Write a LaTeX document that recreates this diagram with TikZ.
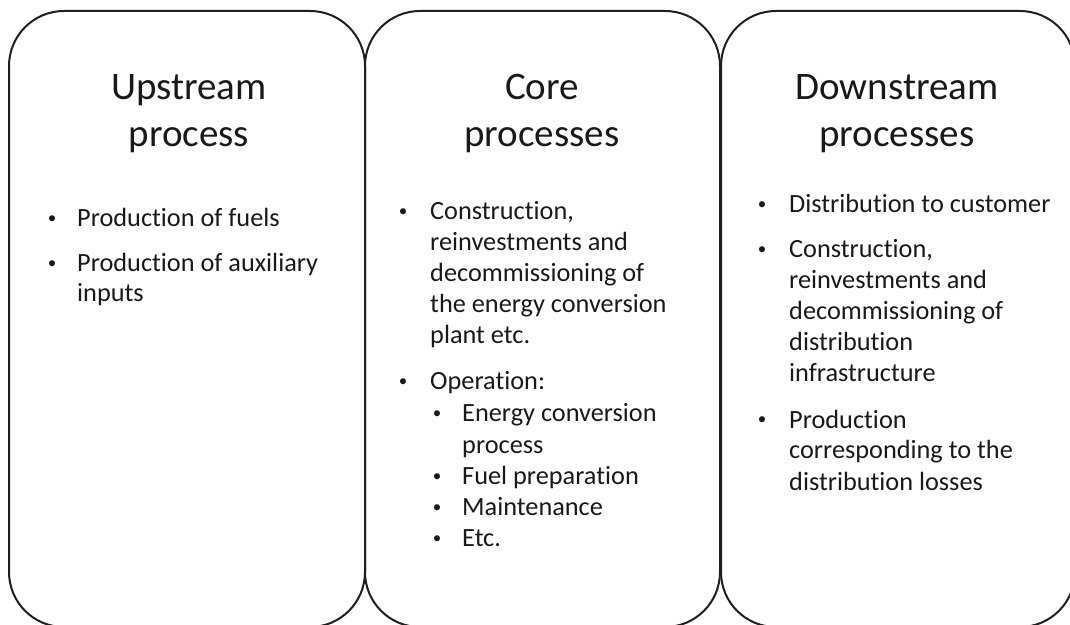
\documentclass[tikz,border=0pt]{standalone}
\usepackage{fontspec}
\setmainfont{Carlito}[Ligatures=NoCommon]
\begin{document}
\begin{tikzpicture}[x=1pt,y=1pt,
  panel/.style={draw=black!88,line width=2pt,rounded corners=55pt,rectangle,
    minimum width=356pt,minimum height=616pt,inner sep=0pt},
  title/.style={font=\fontsize{39}{47}\selectfont,text=black!90,inner sep=0pt,anchor=base},
  txt/.style={font=\fontsize{26.3}{31}\selectfont,text=black!90,inner sep=0pt,anchor=base west},
  bul/.style={font=\fontsize{17}{20}\selectfont,text=black!90,inner sep=0pt,anchor=base,yshift=3pt}]
\useasboundingbox (0,0) rectangle (1070,624);
\clip (0,0) rectangle (1070,624);
% panels
\node[panel] (p1) at (187,305) {};
\node[panel,minimum width=355pt] (p2) at (542.5,305) {};
\node[panel,minimum width=354pt] (p3) at (898,305) {};
% titles
\node[title] (t1a) at (189,524) {Upstream};
\node[title] (t1b) at (189,477) {process};
\node[title] (t2a) at (542,524) {Core};
\node[title] (t2b) at (542,477) {processes};
\node[title] (t3a) at (897,524) {Downstream};
\node[title] (t3b) at (897,477) {processes};
% box 1
\node[bul] (b11) at (52,397) {•};
\node[txt] (l11) at (77,397) {Production of fuels};
\node[bul] (b12) at (52,352) {•};
\node[txt] (l12) at (77,352) {Production of auxiliary};
\node[txt] (l13) at (77,322) {inputs};
% box 2
\node[bul] (b21) at (403,404) {•};
\node[txt] (l21) at (430,404) {Construction,};
\node[txt] (l22) at (430,373) {reinvestments and};
\node[txt] (l23) at (430,342) {decommissioning of};
\node[txt] (l24) at (430,311) {the energy conversion};
\node[txt] (l25) at (430,280) {plant etc.};
\node[bul] (b22) at (403,234) {•};
\node[txt] (l26) at (430,234) {Operation:};
\node[bul] (s21) at (437,202) {•};
\node[txt] (l27) at (462,202) {Energy conversion};
\node[txt] (l28) at (462,171) {process};
\node[bul] (s22) at (437,140) {•};
\node[txt] (l29) at (462,140) {Fuel preparation};
\node[bul] (s23) at (437,109) {•};
\node[txt] (l2a) at (462,109) {Maintenance};
\node[bul] (s24) at (437,78) {•};
\node[txt] (l2b) at (462,78) {Etc.};
% box 3
\node[bul] (b31) at (762,411) {•};
\node[txt] (l31) at (789,411) {Distribution to customer};
\node[bul] (b32) at (762,366) {•};
\node[txt] (l32) at (789,366) {Construction,};
\node[txt] (l33) at (789,335) {reinvestments and};
\node[txt] (l34) at (789,304) {decommissioning of};
\node[txt] (l35) at (789,273) {distribution};
\node[txt] (l36) at (789,242) {infrastructure};
\node[bul] (b33) at (762,196) {•};
\node[txt] (l37) at (789,196) {Production};
\node[txt] (l38) at (789,165) {corresponding to the};
\node[txt] (l39) at (789,134) {distribution losses};
\end{tikzpicture}
\end{document}
